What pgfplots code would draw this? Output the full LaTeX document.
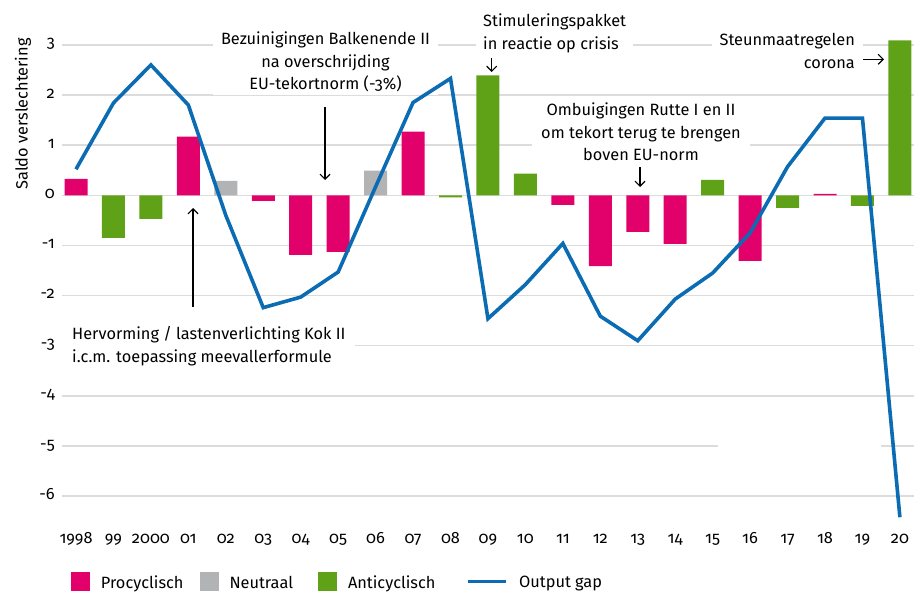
\documentclass[border=0pt]{standalone}
\usepackage{fontspec}
\setmainfont{Fira Sans}[Numbers=OldStyle]
\usepackage{pgfplots}
\pgfplotsset{compat=1.18}
\usetikzlibrary{arrows.meta}
\definecolor{pro}{RGB}{226,0,106}
\definecolor{neu}{RGB}{178,179,180}
\definecolor{anti}{RGB}{96,162,23}
\definecolor{ogblue}{RGB}{11,108,179}
\definecolor{gridc}{RGB}{220,220,220}
\newcommand{\PX}[2]{({(#1-76)/37.45},{(195.3-#2)/50.15})}
\newcommand{\tf}{\fontsize{16.4}{22.8}\selectfont}
\tikzset{ann/.style={line width=1.2bp,-{Straight Barb[length=5bp,width=10bp]}}}
\begin{document}
\begin{tikzpicture}
\begin{axis}[
  set layers,
  at={(62bp,71.725bp)}, anchor=south west,
  scale only axis, width=852bp, height=486.455bp,
  xmin=-0.37383, xmax=22.3765, ymin=-6.5, ymax=3.2,
  clip=false,
  axis line style={draw=none},
  tick style={draw=none}, major tick length=0pt,
  xtick={0,...,22},
  xticklabels={1998,99,2000,01,02,03,04,05,06,07,08,09,10,11,12,13,14,15,16,17,18,19,20},
  ytick={-6,...,3}, yticklabels={-6,-5,-4,-3,-2,-1,0,1,2,3},
  extra y ticks={0}, extra y tick labels={},
  extra y tick style={grid style={black, line width=1.2bp}},
  ymajorgrids, major grid style={color=gridc, line width=1.4bp},
  xticklabel style={anchor=base, yshift=-22bp, inner sep=0pt, font=\tf},
  yticklabel style={anchor=base east, xshift=-7bp, yshift=-3bp, inner sep=0pt, font=\tf},
  legend columns=4,
  legend style={at={(0.01056,-0.1238)}, anchor=west, draw=none, fill=none,
    inner sep=0pt, outer sep=0pt, font=\tf,
    nodes={inner sep=0pt},
    /tikz/every odd column/.style={column sep=11bp},
    /tikz/every even column/.style={column sep=21bp}},
]
% Procyclisch
\addplot[ybar, bar width=23bp, bar shift=0pt, fill=pro, draw=none,
  legend image code/.code={\fill[pro] (0bp,-8bp) rectangle (19bp,11bp);}]
  coordinates {(0,0.33) (3,1.17) (5,-0.11) (6,-1.19) (7,-1.13) (9,1.27)
  (13,-0.19) (14,-1.41) (15,-0.73) (16,-0.97) (18,-1.31) (20,0.03)};
\addlegendentry{Procyclisch\kern-5bp\mbox{}}
% Neutraal
\addplot[ybar, bar width=23bp, bar shift=0pt, fill=neu, draw=none,
  legend image code/.code={\fill[neu] (0bp,-8bp) rectangle (19bp,11bp);}]
  coordinates {(4,0.29) (8,0.49)};
\addlegendentry{Neutraal\kern4bp\mbox{}}
% Anticyclisch
\addplot[ybar, bar width=23bp, bar shift=0pt, fill=anti, draw=none,
  legend image code/.code={\fill[anti] (0bp,-8bp) rectangle (19bp,11bp);}]
  coordinates {(1,-0.85) (2,-0.47) (10,-0.04) (11,2.39) (12,0.43) (17,0.31)
  (19,-0.25) (21,-0.21) (22,3.09)};
\addlegendentry{Anticyclisch\kern10bp\mbox{}}
% Output gap
\addplot[color=ogblue, line width=3.6bp, mark=none,
  legend image code/.code={\draw[ogblue, line width=3.6bp] (0bp,1.5bp) -- (38bp,1.5bp);}]
  coordinates {(0,0.52) (1,1.84) (2,2.6) (3,1.8) (4,-0.4) (5,-2.24) (6,-2.03)
  (7,-1.53) (8,0.17) (9,1.85) (10,2.33) (11,-2.46) (12,-1.78) (13,-0.96)
  (14,-2.41) (15,-2.9) (16,-2.07) (17,-1.55) (18,-0.75) (19,0.57) (20,1.54)
  (21,1.54) (22,-6.42)};
\addlegendentry{Output gap}
\begin{pgfonlayer}{pre main}
\fill[white] \PX{718}{442} rectangle \PX{881}{450};
\node[fill=white, align=center, inner xsep=8bp, inner ysep=3bp, font=\tf] at \PX{325.5}{62}
  {Bezuinigingen Balkenende II\\na overschrijding\\EU-tekortnorm (-3\%)};
\node[fill=white, anchor=west, align=left, inner xsep=10bp, inner ysep=3bp, font=\tf] at \PX{62}{346}
  {Hervorming / lastenverlichting Kok II\\i.c.m. toepassing meevallerformule};
\node[fill=white, anchor=west, align=left, inner xsep=7bp, inner ysep=3bp, font=\tf] at \PX{476}{33.5}
  {Stimuleringspakket\\in reactie op crisis};
\node[fill=white, align=center, inner xsep=9bp, inner ysep=3bp, font=\tf] at \PX{641}{132}
  {Ombuigingen Rutte I en II\\om tekort terug te brengen\\boven EU-norm};
\node[fill=white, anchor=east, align=right, inner xsep=8bp, inner ysep=3bp, font=\tf] at \PX{863}{51}
  {Steunmaatregelen\\corona};
\draw[ann] \PX{325}{107} -- \PX{325}{180};
\draw[ann] \PX{193}{307} -- \PX{193}{208};
\draw[ann] \PX{491.7}{58} -- \PX{491.7}{72};
\draw[ann] \PX{640}{167} -- \PX{640}{187};
\draw[ann] \PX{863}{59.3} -- \PX{884}{59.3};
\end{pgfonlayer}
\end{axis}
\node[rotate=90, font=\tf, inner sep=0pt] at (23bp,479bp) {Saldo verslechtering};
\pgfresetboundingbox
\useasboundingbox (0,0) rectangle (914bp,593bp);
\end{tikzpicture}
\end{document}
